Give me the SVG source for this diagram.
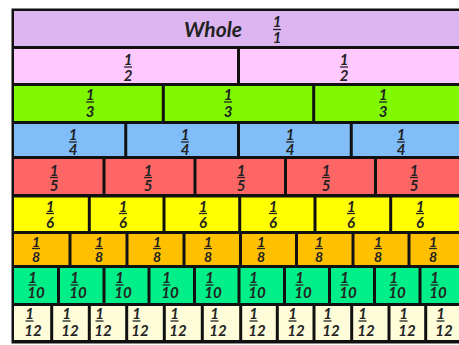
<svg xmlns="http://www.w3.org/2000/svg" width="459" height="345" viewBox="0 0 459 345">
<style>
.bg{fill:#111}
.w{fill:#dcb5f0}.h{fill:#ffc8fe}.t{fill:#80f900}.q{fill:#80bdf9}.f{fill:#fe6666}.s{fill:#ffff00}.e{fill:#ffc000}.x{fill:#00ef88}.z{fill:#fffcda}
text{font-family:Lato,"Liberation Sans",sans-serif;font-weight:bold;font-style:italic;fill:#222;font-size:15px;text-anchor:middle}
.big{font-size:21px}
.sm{font-size:14px}
.bar{stroke:#222;stroke-width:1.3}
</style>
<rect x="0" y="0" width="459" height="345" fill="#fff"/>
<rect class="bg" x="11.5" y="8.5" width="460" height="335"/>

<g id="whole"><rect class="w" x="14" y="11" width="456" height="35"/><text class="big" x="213" y="36.5">Whole</text><text x="277" y="27">1</text><line class="bar" x1="273" y1="29.5" x2="281" y2="29.5"/><text x="277" y="43">1</text></g>

<g id="half-1"><rect class="h" x="14" y="49" width="223" height="34"/><text x="128" y="65">1</text><line class="bar" x1="124" y1="67" x2="132" y2="67"/><text x="128" y="81">2</text></g>
<g id="half-2"><rect class="h" x="240" y="49" width="230" height="34"/><text x="344" y="65">1</text><line class="bar" x1="340" y1="67" x2="348" y2="67"/><text x="344" y="81">2</text></g>

<g id="third-1"><rect class="t" x="14" y="86" width="147.8" height="35"/><text x="90" y="100">1</text><line class="bar" x1="86" y1="102" x2="94" y2="102"/><text x="90" y="117">3</text></g>
<g id="third-2"><rect class="t" x="164.8" y="86" width="147.4" height="35"/><text x="228" y="100">1</text><line class="bar" x1="224" y1="102" x2="232" y2="102"/><text x="228" y="117">3</text></g>
<g id="third-3"><rect class="t" x="315.2" y="86" width="155" height="35"/><text x="383" y="100">1</text><line class="bar" x1="379" y1="102" x2="387" y2="102"/><text x="383" y="117">3</text></g>

<g id="fourth-1"><rect class="q" x="14" y="124" width="110.25" height="32"/><text x="73" y="140">1</text><line class="bar" x1="69" y1="142" x2="77" y2="142"/><text x="73" y="155">4</text></g>
<g id="fourth-2"><rect class="q" x="127.25" y="124" width="109.75" height="32"/><text x="185" y="140">1</text><line class="bar" x1="181" y1="142" x2="189" y2="142"/><text x="185" y="155">4</text></g>
<g id="fourth-3"><rect class="q" x="240" y="124" width="109.75" height="32"/><text x="290" y="140">1</text><line class="bar" x1="286" y1="142" x2="294" y2="142"/><text x="290" y="155">4</text></g>
<g id="fourth-4"><rect class="q" x="352.75" y="124" width="118" height="32"/><text x="401" y="140">1</text><line class="bar" x1="397" y1="142" x2="405" y2="142"/><text x="401" y="155">4</text></g>

<g id="fifth-1"><rect class="f" x="14" y="159" width="88.5" height="35"/><text x="54" y="176">1</text><line class="bar" x1="50" y1="177.5" x2="58" y2="177.5"/><text x="54" y="191">5</text></g>
<g id="fifth-2"><rect class="f" x="105.5" y="159" width="88" height="35"/><text x="148" y="176">1</text><line class="bar" x1="144" y1="177.5" x2="152" y2="177.5"/><text x="148" y="191">5</text></g>
<g id="fifth-3"><rect class="f" x="196.5" y="159" width="87.5" height="35"/><text x="241" y="176">1</text><line class="bar" x1="237" y1="177.5" x2="245" y2="177.5"/><text x="241" y="191">5</text></g>
<g id="fifth-4"><rect class="f" x="287" y="159" width="87" height="35"/><text x="326" y="176">1</text><line class="bar" x1="322" y1="177.5" x2="330" y2="177.5"/><text x="326" y="191">5</text></g>
<g id="fifth-5"><rect class="f" x="377" y="159" width="94" height="35"/><text x="414" y="176">1</text><line class="bar" x1="410" y1="177.5" x2="418" y2="177.5"/><text x="414" y="191">5</text></g>

<g id="sixth-1"><rect class="s" x="14" y="197.5" width="73.8" height="33.5"/><text x="50" y="212">1</text><line class="bar" x1="46" y1="213.5" x2="54" y2="213.5"/><text x="50" y="228">6</text></g>
<g id="sixth-2"><rect class="s" x="90.8" y="197.5" width="71.7" height="33.5"/><text x="123" y="212">1</text><line class="bar" x1="119" y1="213.5" x2="127" y2="213.5"/><text x="123" y="228">6</text></g>
<g id="sixth-3"><rect class="s" x="165.5" y="197.5" width="72.7" height="33.5"/><text x="203" y="212">1</text><line class="bar" x1="199" y1="213.5" x2="207" y2="213.5"/><text x="203" y="228">6</text></g>
<g id="sixth-4"><rect class="s" x="241.2" y="197.5" width="72.3" height="33.5"/><text x="273" y="212">1</text><line class="bar" x1="269" y1="213.5" x2="277" y2="213.5"/><text x="273" y="228">6</text></g>
<g id="sixth-5"><rect class="s" x="316.5" y="197.5" width="72.7" height="33.5"/><text x="351" y="212">1</text><line class="bar" x1="347" y1="213.5" x2="355" y2="213.5"/><text x="351" y="228">6</text></g>
<g id="sixth-6"><rect class="s" x="392.2" y="197.5" width="79" height="33.5"/><text x="420" y="212">1</text><line class="bar" x1="416" y1="213.5" x2="424" y2="213.5"/><text x="420" y="228">6</text></g>

<g id="eighth-1"><rect class="e" x="14" y="234" width="54.5" height="31"/><text class="sm" x="36" y="246.5">1</text><line class="bar" x1="32" y1="248.5" x2="40" y2="248.5"/><text class="sm" x="36" y="261.5">8</text></g>
<g id="eighth-2"><rect class="e" x="71.5" y="234" width="54" height="31"/><text class="sm" x="99" y="246.5">1</text><line class="bar" x1="95" y1="248.5" x2="103" y2="248.5"/><text class="sm" x="99" y="261.5">8</text></g>
<g id="eighth-3"><rect class="e" x="128.5" y="234" width="54" height="31"/><text class="sm" x="157" y="246.5">1</text><line class="bar" x1="153" y1="248.5" x2="161" y2="248.5"/><text class="sm" x="157" y="261.5">8</text></g>
<g id="eighth-4"><rect class="e" x="185.5" y="234" width="53.5" height="31"/><text class="sm" x="208" y="246.5">1</text><line class="bar" x1="204" y1="248.5" x2="212" y2="248.5"/><text class="sm" x="208" y="261.5">8</text></g>
<g id="eighth-5"><rect class="e" x="242" y="234" width="53" height="31"/><text class="sm" x="261" y="246.5">1</text><line class="bar" x1="257" y1="248.5" x2="265" y2="248.5"/><text class="sm" x="261" y="261.5">8</text></g>
<g id="eighth-6"><rect class="e" x="298" y="234" width="53.5" height="31"/><text class="sm" x="319" y="246.5">1</text><line class="bar" x1="315" y1="248.5" x2="323" y2="248.5"/><text class="sm" x="319" y="261.5">8</text></g>
<g id="eighth-7"><rect class="e" x="354.5" y="234" width="53" height="31"/><text class="sm" x="378" y="246.5">1</text><line class="bar" x1="374" y1="248.5" x2="382" y2="248.5"/><text class="sm" x="378" y="261.5">8</text></g>
<g id="eighth-8"><rect class="e" x="410.5" y="234" width="60" height="31"/><text class="sm" x="433" y="246.5">1</text><line class="bar" x1="429" y1="248.5" x2="437" y2="248.5"/><text class="sm" x="433" y="261.5">8</text></g>

<g id="tenth-1"><rect class="x" x="14" y="268" width="43" height="35"/><text x="32.5" y="283">1</text><line class="bar" x1="28.5" y1="285" x2="36.5" y2="285"/><text x="36" y="298">10</text></g>
<g id="tenth-2"><rect class="x" x="60" y="268" width="42.5" height="35"/><text x="74.5" y="283">1</text><line class="bar" x1="70.5" y1="285" x2="78.5" y2="285"/><text x="78" y="298">10</text></g>
<g id="tenth-3"><rect class="x" x="105.5" y="268" width="42" height="35"/><text x="119.5" y="283">1</text><line class="bar" x1="115.5" y1="285" x2="123.5" y2="285"/><text x="123" y="298">10</text></g>
<g id="tenth-4"><rect class="x" x="150.5" y="268" width="42.5" height="35"/><text x="166.5" y="283">1</text><line class="bar" x1="162.5" y1="285" x2="170.5" y2="285"/><text x="170" y="298">10</text></g>
<g id="tenth-5"><rect class="x" x="196" y="268" width="41.5" height="35"/><text x="209.5" y="283">1</text><line class="bar" x1="205.5" y1="285" x2="213.5" y2="285"/><text x="213" y="298">10</text></g>
<g id="tenth-6"><rect class="x" x="240.5" y="268" width="42.5" height="35"/><text x="253.5" y="283">1</text><line class="bar" x1="249.5" y1="285" x2="257.5" y2="285"/><text x="257" y="298">10</text></g>
<g id="tenth-7"><rect class="x" x="286" y="268" width="42" height="35"/><text x="299.5" y="283">1</text><line class="bar" x1="295.5" y1="285" x2="303.5" y2="285"/><text x="303" y="298">10</text></g>
<g id="tenth-8"><rect class="x" x="331" y="268" width="42" height="35"/><text x="344.5" y="283">1</text><line class="bar" x1="340.5" y1="285" x2="348.5" y2="285"/><text x="348" y="298">10</text></g>
<g id="tenth-9"><rect class="x" x="376" y="268" width="42.5" height="35"/><text x="393.5" y="283">1</text><line class="bar" x1="389.5" y1="285" x2="397.5" y2="285"/><text x="397" y="298">10</text></g>
<g id="tenth-10"><rect class="x" x="421.5" y="268" width="49" height="35"/><text x="434.5" y="283">1</text><line class="bar" x1="430.5" y1="285" x2="438.5" y2="285"/><text x="438" y="298">10</text></g>

<g id="twelfth-1"><rect class="z" x="14" y="306" width="36.2" height="34"/><text x="29.5" y="319">1</text><line class="bar" x1="25.5" y1="321" x2="33.5" y2="321"/><text x="33" y="336">12</text></g>
<g id="twelfth-2"><rect class="z" x="53.2" y="306" width="34.6" height="34"/><text x="66.5" y="319">1</text><line class="bar" x1="62.5" y1="321" x2="70.5" y2="321"/><text x="70" y="336">12</text></g>
<g id="twelfth-3"><rect class="z" x="90.8" y="306" width="34.4" height="34"/><text x="99.5" y="319">1</text><line class="bar" x1="95.5" y1="321" x2="103.5" y2="321"/><text x="103" y="336">12</text></g>
<g id="twelfth-4"><rect class="z" x="128.2" y="306" width="34.6" height="34"/><text x="136.5" y="319">1</text><line class="bar" x1="132.5" y1="321" x2="140.5" y2="321"/><text x="140" y="336">12</text></g>
<g id="twelfth-5"><rect class="z" x="165.8" y="306" width="35" height="34"/><text x="174.5" y="319">1</text><line class="bar" x1="170.5" y1="321" x2="178.5" y2="321"/><text x="178" y="336">12</text></g>
<g id="twelfth-6"><rect class="z" x="203.8" y="306" width="35.4" height="34"/><text x="214.5" y="319">1</text><line class="bar" x1="210.5" y1="321" x2="218.5" y2="321"/><text x="218" y="336">12</text></g>
<g id="twelfth-7"><rect class="z" x="242.2" y="306" width="33.6" height="34"/><text x="253.5" y="319">1</text><line class="bar" x1="249.5" y1="321" x2="257.5" y2="321"/><text x="257" y="336">12</text></g>
<g id="twelfth-8"><rect class="z" x="278.8" y="306" width="33.7" height="34"/><text x="292.5" y="319">1</text><line class="bar" x1="288.5" y1="321" x2="296.5" y2="321"/><text x="296" y="336">12</text></g>
<g id="twelfth-9"><rect class="z" x="315.5" y="306" width="34.7" height="34"/><text x="327.5" y="319">1</text><line class="bar" x1="323.5" y1="321" x2="331.5" y2="321"/><text x="331" y="336">12</text></g>
<g id="twelfth-10"><rect class="z" x="353.2" y="306" width="34.3" height="34"/><text x="362.5" y="319">1</text><line class="bar" x1="358.5" y1="321" x2="366.5" y2="321"/><text x="366" y="336">12</text></g>
<g id="twelfth-11"><rect class="z" x="390.5" y="306" width="33.7" height="34"/><text x="403.5" y="319">1</text><line class="bar" x1="399.5" y1="321" x2="407.5" y2="321"/><text x="407" y="336">12</text></g>
<g id="twelfth-12"><rect class="z" x="427.2" y="306" width="44" height="34"/><text x="440.5" y="319">1</text><line class="bar" x1="436.5" y1="321" x2="444.5" y2="321"/><text x="444" y="336">12</text></g>

<g id="connectors"></g>
</svg>
